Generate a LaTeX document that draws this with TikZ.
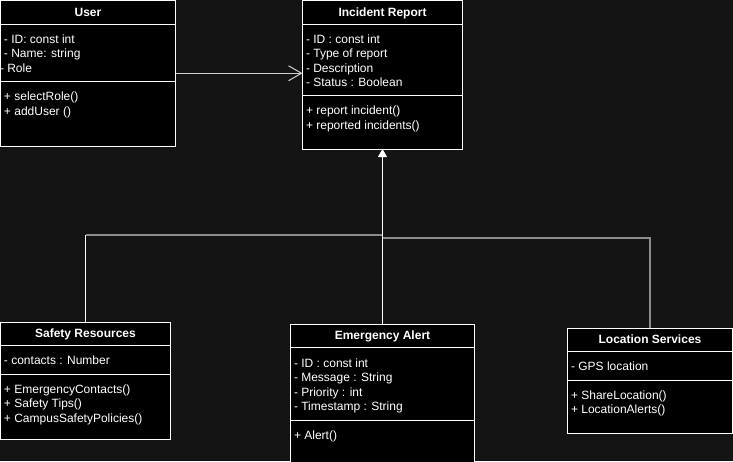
\documentclass[tikz,border=0pt]{standalone}
\usepackage{fontspec}
\setmainfont{Liberation Sans}
\usetikzlibrary{shapes,arrows,arrows.meta,positioning}
\definecolor{canvas}{HTML}{141414}
\definecolor{dimline}{HTML}{8C8C8C}
\definecolor{lightline}{HTML}{CFCFCF}

\begin{document}
\begin{tikzpicture}[x=1pt,y=1pt,
    umlclass/.style={draw=white, fill=black, text=white, line width=1pt,
      rectangle split, rectangle split parts=3,
      rectangle split part align={center,left,left},
      align=left, inner xsep=3.5pt, inner ysep=6.5pt, outer sep=0pt,
      font=\fontsize{12}{14.5}\selectfont, anchor=north west},
    assoc/.style={draw=lightline, line width=1.2pt,
      -{Straight Barb[length=13pt,width=15pt,line width=1pt]}},
    inherit/.style={draw=white, line width=1pt,
      -{Triangle[length=8pt,width=9pt,fill=white]}},
    wire/.style={draw=white, line width=1pt},
    dimwire/.style={draw=dimline, line width=1.5pt}]
\path[use as bounding box, fill=canvas] (0,0) rectangle (733,-461);
\node[umlclass, minimum width=175pt] (user) at (0.5,-0.5)
    {\smash{\textbf{User}}\rule[-1pt]{0pt}{9.5pt}
     \nodepart{second}\rule{0pt}{12.15pt}- ID: const int\\- Name: string\\\hspace*{-4pt}- Role\rule[-2.35pt]{0pt}{0pt}
     \nodepart{third}\rule{0pt}{12.15pt}+ selectRole()\\+ addUser ()\rule[-23.85pt]{0pt}{0pt}};
\node[umlclass, minimum width=160pt,
    right=127pt of user.north east, anchor=north west] (incident)
    {\smash{\textbf{Incident Report}}\rule[-1pt]{0pt}{9.5pt}
     \nodepart{second}\rule{0pt}{12.15pt}- ID : const int\\- Type of report\\- Description\\- Status : Boolean\rule[-1.85pt]{0pt}{0pt}
     \nodepart{third}\rule{0pt}{12.15pt}+ report incident()\\+ reported incidents()\rule[-12.85pt]{0pt}{0pt}};
\node[umlclass, minimum width=170pt,
    below=176pt of user.south west, anchor=north west] (safety)
    {\smash{\textbf{Safety Resources}}\rule[-1pt]{0pt}{9.5pt}
     \nodepart{second}\rule{0pt}{12.15pt}- contacts : Number\rule[-2.35pt]{0pt}{0pt}
     \nodepart{third}\rule{0pt}{12.15pt}+ EmergencyContacts()\\+ Safety Tips()\\+ CampusSafetyPolicies()\rule[-10.35pt]{0pt}{0pt}};
\node[umlclass, minimum width=184pt,
    below right=2.4pt and 120pt of safety.north east, anchor=north west] (emergency)
    {\smash{\textbf{Emergency Alert}}\rule[-1pt]{0pt}{9.5pt}
     \nodepart{second}\rule{0pt}{12.15pt}- ID : const int\\- Message : String\\- Priority : int\\- Timestamp : String\rule[-1.85pt]{0pt}{0pt}
     \nodepart{third}\rule{0pt}{12.15pt}+ Alert()\rule[-20.35pt]{0pt}{0pt}};
\node[umlclass, minimum width=165pt,
    below right=3.6pt and 93pt of emergency.north east, anchor=north west] (location)
    {\smash{\textbf{Location Services}}\rule[-1pt]{0pt}{9.5pt}
     \nodepart{second}\rule{0pt}{12.15pt}- GPS location\rule[-2.35pt]{0pt}{0pt}
     \nodepart{third}\rule{0pt}{12.15pt}+ ShareLocation()\\+ LocationAlerts()\rule[-12.55pt]{0pt}{0pt}};
% bus lines towards the report
\coordinate (safety bus) at ([yshift=-86pt]incident.south);
\coordinate (location bus) at ([yshift=-89pt]incident.south);
\draw[assoc] (user.east) -- (user.east -| incident.west);
\draw[wire] (safety.north) -- (safety.north |- safety bus);
\draw[dimwire] (safety.north |- safety bus) -- (safety bus);
\draw[dimwire] (location.north) |- (location bus);
\draw[inherit] (emergency.north) -- (incident.south);
\end{tikzpicture}
\end{document}
